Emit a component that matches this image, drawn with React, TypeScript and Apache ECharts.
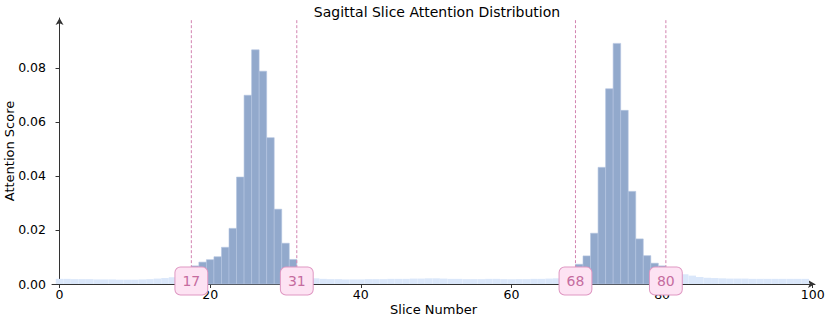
import React, { useEffect, useRef } from "react";
import * as echarts from "echarts";

// Attention score per slice (slices 0..99)
const attention: number[] = [
  0.0019, 0.0019, 0.0018, 0.0018, 0.0018, 0.0017, 0.0017, 0.0017, 0.0016, 0.0016,
  0.0016, 0.0017, 0.0018, 0.0020, 0.0022, 0.0025, 0.0028, 0.0031, 0.0067, 0.0081,
  0.0090, 0.0101, 0.0136, 0.0206, 0.0396, 0.0699, 0.0867, 0.0788, 0.0542, 0.0277,
  0.0151, 0.0091, 0.0030, 0.0024, 0.0021, 0.0019, 0.0018, 0.0018, 0.0017, 0.0017,
  0.0017, 0.0018, 0.0018, 0.0018, 0.0019, 0.0019, 0.0019, 0.0020, 0.0020, 0.0021,
  0.0021, 0.0020, 0.0019, 0.0019, 0.0018, 0.0018, 0.0018, 0.0019, 0.0019, 0.0018,
  0.0018, 0.0018, 0.0018, 0.0019, 0.0019, 0.0020, 0.0021, 0.0024, 0.0030, 0.0073,
  0.0104, 0.0188, 0.0432, 0.0723, 0.0891, 0.0643, 0.0343, 0.0167, 0.0105, 0.0077,
  0.0067, 0.0052, 0.0042, 0.0036, 0.0031, 0.0026, 0.0023, 0.0022, 0.0021, 0.0020,
  0.0020, 0.0020, 0.0019, 0.0019, 0.0019, 0.0019, 0.0019, 0.0019, 0.0019, 0.0019,
];

// Selected slice ranges (labels shown at boundaries)
const regionStarts: number[] = [17, 68];
const regionEnds: number[] = [31, 80];

const xTicks: number[] = [0, 20, 40, 60, 80, 100];
const yTicks: number[] = [0, 0.02, 0.04, 0.06, 0.08];

const FONT = "DejaVu Sans";

export default function App() {
  const ref = useRef<HTMLDivElement>(null);

  useEffect(() => {
    if (!ref.current) return;
    const chart = echarts.init(ref.current, undefined, { renderer: "svg" });

    const inRegion = (i: number) =>
      regionStarts.some((s, k) => i > s && i <= regionEnds[k]);

    const lightData: number[][] = [];
    const darkData: number[][] = [];
    attention.forEach((v, i) => {
      if (inRegion(i)) darkData.push([i, v]);
      else lightData.push([i, v]);
    });

    const boundaries: (number | string)[][] = [];
    regionStarts.forEach((s, k) => {
      boundaries.push([s + 0.5, String(s)]);
      boundaries.push([regionEnds[k] + 0.5, String(regionEnds[k])]);
    });

    const yMax = 0.0985;

    const barRender = (fill: string, stroke: string, lw: number) =>
      (params: any, api: any) => {
        const x = api.value(0);
        const y = api.value(1);
        const p0 = api.coord([x - 0.5, y]);
        const p1 = api.coord([x + 0.5, 0]);
        return {
          type: "rect",
          shape: { x: p0[0], y: p0[1], width: p1[0] - p0[0], height: p1[1] - p0[1] },
          style: { fill, stroke, lineWidth: lw },
        };
      };

    chart.setOption({
      animation: false,
      backgroundColor: "#ffffff",
      title: {
        text: "Sagittal Slice Attention Distribution",
        left: 432,
        textAlign: "center",
        top: 0,
        textStyle: { fontFamily: FONT, fontSize: 14, fontWeight: "normal", color: "#000" },
      },
      grid: { left: 52, right: 16, top: 18, bottom: 37, outerBoundsMode: "none", containLabel: false },
      xAxis: {
        type: "value",
        min: -1,
        max: 100.3,
        name: "Slice Number",
        nameLocation: "middle",
        nameGap: 19,
        nameMoveOverlap: false,
        nameTextStyle: { fontFamily: FONT, fontSize: 13, color: "#000" },
        splitLine: { show: false },
        axisLine: {
          show: true,
          onZero: false,
          symbol: ["none", "arrow"],
          symbolSize: [6, 7],
          lineStyle: { color: "#333", width: 1 },
        },
        axisTick: { show: true, length: 4, customValues: xTicks, lineStyle: { color: "#333" } },
        axisLabel: {
          customValues: xTicks,
          margin: 4,
          fontFamily: FONT,
          fontSize: 12.5,
          color: "#000",
          formatter: (v: number) => String(Math.round(v)),
        },
      },
      yAxis: {
        type: "value",
        min: 0,
        max: yMax,
        name: "Attention Score",
        nameLocation: "middle",
        nameGap: 36,
        nameMoveOverlap: false,
        nameTextStyle: { fontFamily: FONT, fontSize: 13, color: "#000" },
        splitLine: { show: false },
        axisLine: {
          show: true,
          symbol: ["none", "arrow"],
          symbolSize: [6, 7],
          lineStyle: { color: "#333", width: 1 },
        },
        axisTick: { show: true, length: 4, customValues: yTicks, lineStyle: { color: "#333" } },
        axisLabel: {
          customValues: yTicks,
          margin: 6,
          fontFamily: FONT,
          fontSize: 12.5,
          color: "#000",
          formatter: (v: number) => v.toFixed(2),
        },
      },
      series: [
        {
          type: "custom",
          name: "all",
          data: lightData,
          renderItem: barRender("#dae7fa", "none", 0),
          z: 1,
        },
        {
          type: "custom",
          name: "selected",
          data: darkData,
          renderItem: barRender("#92a9cc", "#b3c4e0", 0.6),
          z: 2,
        },
        {
          type: "custom",
          name: "bounds",
          data: boundaries,
          clip: false,
          z: 5,
          renderItem: (params: any, api: any) => {
            const x = api.value(0);
            const lbl = boundaries[params.dataIndex][1] as string;
            const top = api.coord([x, yMax - 0.0008]);
            const bot = api.coord([x, 0]);
            return {
              type: "group",
              children: [
                {
                  type: "line",
                  shape: { x1: top[0], y1: top[1], x2: bot[0], y2: bot[1] },
                  style: { stroke: "#d283b0", lineWidth: 1, lineDash: [3, 2] },
                },
                {
                  type: "text",
                  x: bot[0],
                  y: bot[1] - 3,
                  style: {
                    text: lbl,
                    fontFamily: FONT,
                    fontSize: 14,
                    fill: "#c56c9f",
                    align: "center",
                    verticalAlign: "middle",
                    backgroundColor: "#fde3f3",
                    borderColor: "#df97c2",
                    borderWidth: 1,
                    borderRadius: 5,
                    padding: [7, 7, 6, 7],
                  },
                },
              ],
            };
          },
        },
      ],
    });

    return () => chart.dispose();
  }, []);

  return (
    <div
      ref={ref}
      style={{ position: "fixed", left: 0, top: 0, width: 831, height: 321 }}
    />
  );
}
